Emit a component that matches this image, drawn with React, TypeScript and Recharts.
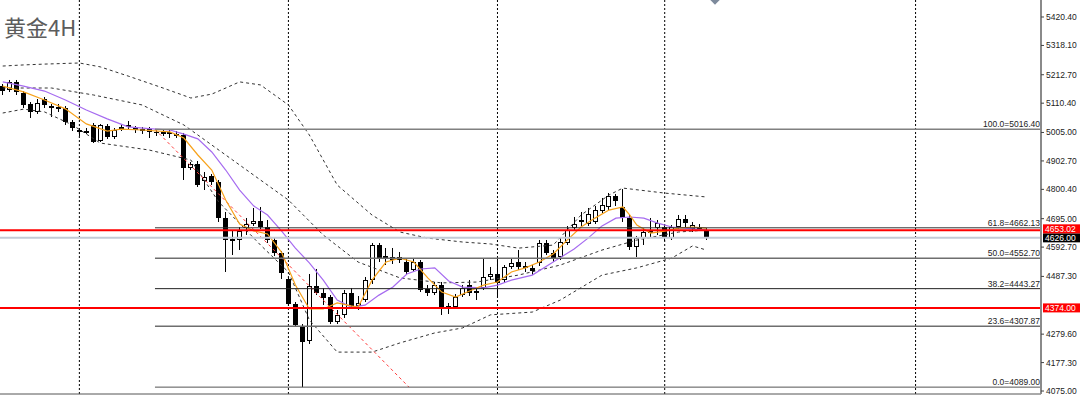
import type { FC } from 'react';
import { ComposedChart, Bar, Line, XAxis, YAxis, ReferenceLine } from 'recharts';

// 4H candles, oldest first
const OPEN = [5172.2, 5157.8, 5186.6, 5147.0, 5107.4, 5078.7, 5125.4, 5100.3, 5089.5, 5093.1,
    5042.7, 5006.8, 5008.5, 5031.9, 4974.4, 5028.3, 4988.8, 5017.5, 5031.9, 5021.1,
    5017.5, 5017.5, 5006.8, 5006.8, 5006.8, 4999.6, 4996.0, 4877.3, 4891.6, 4830.5,
    4848.5, 4826.9, 4697.4, 4618.3, 4618.3, 4661.4, 4675.8, 4686.6, 4665.0, 4618.3,
    4571.5, 4478.0, 4388.0, 4308.9, 4254.9, 4452.8, 4427.6, 4413.2, 4323.1, 4348.5,
    4427.6, 4380.8, 4402.4, 4474.4, 4600.3, 4560.7, 4557.1, 4546.3, 4539.1, 4510.4,
    4539.1, 4442.0, 4427.6, 4456.4, 4380.8, 4377.2, 4420.4, 4456.4, 4434.8, 4445.6,
    4485.2, 4496.0, 4474.4, 4521.2, 4539.1, 4524.8, 4517.6, 4535.5, 4607.5, 4571.5,
    4557.1, 4607.5, 4661.4, 4690.2, 4675.8, 4683.0, 4722.6, 4737.0, 4776.6, 4737.0,
    4697.4, 4593.1, 4625.5, 4654.2, 4661.4, 4665.0, 4625.5, 4665.0, 4693.8, 4657.8,
    4665.0, 4654.2];
const HIGH = [5179.4, 5193.8, 5193.8, 5154.2, 5114.6, 5125.4, 5132.6, 5107.4, 5107.4, 5100.3,
    5049.9, 5021.1, 5021.1, 5039.1, 5035.5, 5035.5, 5021.1, 5031.9, 5046.3, 5028.3,
    5024.7, 5024.7, 5016.4, 5013.9, 5013.9, 5010.3, 5003.2, 4898.8, 4902.4, 4862.9,
    4855.7, 4834.1, 4719.0, 4650.6, 4665.0, 4697.4, 4733.4, 4737.0, 4690.2, 4625.5,
    4578.7, 4485.2, 4395.2, 4316.0, 4496.0, 4514.0, 4445.6, 4420.4, 4366.4, 4438.4,
    4445.6, 4416.8, 4485.2, 4607.5, 4607.5, 4589.5, 4589.5, 4575.1, 4549.9, 4553.5,
    4546.3, 4456.4, 4467.2, 4467.2, 4391.6, 4424.0, 4456.4, 4474.4, 4445.6, 4553.5,
    4521.2, 4557.1, 4528.3, 4553.5, 4582.3, 4539.1, 4528.3, 4618.3, 4618.3, 4582.3,
    4625.5, 4668.6, 4701.0, 4719.0, 4733.4, 4740.6, 4769.4, 4787.4, 4783.8, 4801.7,
    4708.2, 4632.7, 4661.4, 4697.4, 4690.2, 4675.8, 4672.2, 4708.2, 4708.2, 4683.0,
    4675.8, 4661.4];
const LOW = [5139.8, 5150.6, 5139.8, 5093.1, 5057.1, 5071.5, 5093.1, 5060.7, 5078.7, 5031.9,
    5010.3, 4992.4, 4999.6, 4967.2, 4970.8, 4981.6, 4981.6, 5010.3, 5013.9, 5003.2,
    4999.6, 4985.2, 4992.4, 4992.4, 4985.2, 4985.2, 4834.1, 4870.1, 4808.9, 4798.1,
    4816.1, 4683.0, 4503.2, 4564.3, 4582.3, 4636.3, 4668.6, 4657.8, 4607.5, 4560.7,
    4478.0, 4380.8, 4305.3, 4089.0, 4244.2, 4420.4, 4384.4, 4316.0, 4316.0, 4337.7,
    4373.6, 4366.4, 4395.2, 4460.0, 4539.1, 4528.3, 4531.9, 4535.5, 4492.4, 4503.2,
    4431.2, 4416.8, 4420.4, 4348.5, 4352.1, 4370.0, 4413.2, 4416.8, 4402.4, 4438.4,
    4474.4, 4413.2, 4463.6, 4514.0, 4510.4, 4503.2, 4492.4, 4524.8, 4564.3, 4539.1,
    4546.3, 4600.3, 4650.6, 4668.6, 4668.6, 4675.8, 4715.4, 4726.2, 4740.6, 4683.0,
    4582.3, 4557.1, 4600.3, 4625.5, 4636.3, 4614.7, 4618.3, 4657.8, 4661.4, 4647.0,
    4650.6, 4618.3];
const CLOSE = [5154.2, 5186.6, 5150.6, 5103.9, 5078.7, 5111.0, 5103.9, 5093.1, 5096.7, 5042.7,
    5021.1, 5013.9, 5010.3, 4970.8, 5031.9, 4988.8, 5013.9, 5024.7, 5024.7, 5013.9,
    5010.3, 5006.8, 5003.2, 4999.6, 4999.6, 4992.4, 4877.3, 4891.6, 4816.1, 4844.9,
    4826.9, 4697.4, 4618.3, 4621.9, 4650.6, 4675.8, 4686.6, 4665.0, 4618.3, 4571.5,
    4499.6, 4388.0, 4312.4, 4251.4, 4452.8, 4427.6, 4409.6, 4323.1, 4348.5, 4427.6,
    4380.8, 4391.6, 4474.4, 4600.3, 4553.5, 4549.9, 4546.3, 4557.1, 4503.2, 4539.1,
    4438.4, 4427.6, 4456.4, 4377.2, 4373.6, 4413.2, 4445.6, 4427.6, 4427.6, 4485.2,
    4496.0, 4463.6, 4521.2, 4535.5, 4521.2, 4517.6, 4506.8, 4607.5, 4571.5, 4549.9,
    4611.1, 4654.2, 4675.8, 4683.0, 4711.8, 4726.2, 4744.2, 4776.6, 4758.6, 4697.4,
    4593.1, 4625.5, 4647.0, 4643.4, 4679.4, 4625.5, 4665.0, 4693.8, 4679.4, 4672.2,
    4657.8, 4626.0];

// indicator readings (candle index -> price)
const FAST_IDX = [0, 3, 6, 9, 12, 15, 17, 20, 24, 26, 28, 30, 32, 34, 36, 38, 40, 42, 44, 46, 48, 50, 51, 53, 55,
    57, 59, 61, 63, 65, 67, 69, 71, 73, 75, 77, 79, 81, 83, 85, 87, 89, 90, 91, 93, 95, 97, 99, 101];
const FAST_MA = [5172, 5151, 5122, 5090, 5036, 5010, 5017, 5014, 5007, 4985, 4924, 4870, 4762, 4676, 4651, 4640,
    4575, 4456, 4370, 4370, 4392, 4381, 4377, 4474, 4539, 4553, 4539, 4482, 4431, 4413, 4435, 4456, 4467, 4503,
    4518, 4539, 4568, 4618, 4665, 4697, 4726, 4737, 4708, 4672, 4643, 4650, 4661, 4665, 4661];
const SLOW_IDX = [0, 3, 6, 9, 12, 15, 18, 21, 24, 26, 28, 30, 32, 34, 36, 38, 40, 42, 44, 46, 48, 50, 52, 54, 56,
    58, 60, 62, 64, 66, 69, 71, 73, 76, 79, 82, 84, 86, 88, 90, 92, 94, 96, 99, 101];
const SLOW_MA = [5187, 5172, 5154, 5122, 5086, 5054, 5025, 5019, 5014, 4999, 4982, 4935, 4870, 4798, 4741, 4708,
    4651, 4589, 4536, 4474, 4402, 4377, 4384, 4420, 4449, 4496, 4514, 4518, 4471, 4449, 4446, 4456, 4474, 4492,
    4539, 4586, 4625, 4669, 4697, 4701, 4697, 4679, 4665, 4658, 4654];
const UPPER_IDX = [0, 3, 6, 11, 14, 18, 23, 27, 30, 34, 37, 41, 44, 48, 53, 57, 61, 66, 70, 74, 79, 83, 87, 89, 95, 101];
const UPPER_BAND = [5244, 5248, 5251, 5255, 5241, 5208, 5165, 5129, 5143, 5187, 5176, 5104, 4996, 4816, 4708, 4647,
    4625, 4611, 4604, 4589, 4600, 4708, 4780, 4805, 4787, 4773];
const MID_IDX = [0, 7, 13, 20, 26, 33, 41, 46, 51, 57, 63, 68, 74, 80, 86, 91, 97, 101];
const MID_BAND = [5165, 5165, 5140, 5104, 5032, 4906, 4762, 4636, 4539, 4482, 4464, 4467, 4492, 4528, 4582, 4618, 4647, 4654];
const LOWER_IDX = [0, 3, 6, 10, 14, 21, 27, 31, 37, 41, 44, 48, 53, 57, 62, 66, 70, 76, 80, 86, 91, 96, 99, 101];
const LOWER_BAND = [5075, 5089, 5079, 5032, 4967, 4942, 4906, 4755, 4600, 4503, 4331, 4215, 4215, 4248, 4284, 4302,
    4349, 4359, 4402, 4492, 4518, 4553, 4597, 4582];

const Y_TICKS = [5420.4, 5318.1, 5212.7, 5110.4, 5005.0, 4902.7, 4800.4, 4695.0, 4592.7, 4487.3, 4279.6, 4177.3, 4075.0];
const FIB_LEVELS = ['100.0', '61.8', '50.0', '38.2', '23.6', '0.0'];
const FIB_PRICES = [5016.4, 4662.13, 4552.7, 4443.27, 4307.87, 4089.0];
const FIB_COLORS = ['#808080', '#333', '#6e6e6e', '#222', '#6e6e6e', '#555'];
const FIB_START = 21.85;
const FIB_END_IDX = 58.3;
const DAY_SEPARATORS = [11, 41, 71, 95, 131];
const RED_LEVELS = [4653.02, 4374.0];
const BID = 4626.0;

const X_DOMAIN: [number, number] = [-0.39, 149];
const Y_DOMAIN: [number, number] = [4064.3, 5481.55];
const FONT = '"Liberation Sans", Arial, sans-serif';

const candles = OPEN.map((o, i) => ({ i, o, h: HIGH[i], l: LOW[i], c: CLOSE[i], range: [LOW[i], HIGH[i]] }));
const series = (idx: number[], vals: number[]) => idx.map((i, j) => ({ i, v: vals[j] }));
const fastPts = series(FAST_IDX, FAST_MA);
const slowPts = series(SLOW_IDX, SLOW_MA);
const upperPts = series(UPPER_IDX, UPPER_BAND);
const midPts = series(MID_IDX, MID_BAND);
const lowerPts = series(LOWER_IDX, LOWER_BAND);

const Candle = (props: any) => {
    const { x, y, width, height, payload } = props;
    if (!payload) return null;
    const { o, h, l, c } = payload;
    const k = height / (h - l || 1);
    const cx = Math.round(x + width / 2 - 0.5);
    const top = Math.round(y + (h - Math.max(o, c)) * k);
    const bot = Math.round(y + (h - Math.min(o, c)) * k);
    const bh = Math.max(1, bot - top);
    return (
        <g>
            <line x1={cx + 0.5} x2={cx + 0.5} y1={y} y2={y + height} stroke="#000" strokeWidth={1} />
            {c > o
                ? <rect x={cx - 1.5} y={top + 0.5} width={4} height={Math.max(1, bh - 1)} fill="#fff" stroke="#000" strokeWidth={1} />
                : <rect x={cx - 2} y={top} width={5} height={bh} fill="#000" />}
        </g>
    );
};

const priceTag = (text: string, bg: string, shift: number) => (props: any) => {
    const { x, y, width } = props.viewBox;
    const left = x + width + 2;
    const top = y - 4.5 + shift;
    return (
        <g>
            <rect x={left} y={top} width={37} height={9} fill={bg} />
            <text x={left + 2} y={top + 7.5} fontSize={8.5} fill="#fff" fontFamily={FONT}>{text}</text>
        </g>
    );
};

const fibLabel = (text: string) => (props: any) => {
    const { x, y, width } = props.viewBox;
    return (
        <text x={x + width - 1} y={y - 2} fontSize={8.5} fill="#222" textAnchor="end" fontFamily={FONT}>{text}</text>
    );
};

const bandProps = {
    dataKey: 'v', stroke: '#333', strokeWidth: 1, strokeDasharray: '3 3',
    dot: false, activeDot: false, isAnimationActive: false,
};

const App: FC = () => (
    <div style={{ position: 'absolute', left: 0, top: 0, width: 1080, height: 395, background: '#fff', overflow: 'hidden' }}>
        <ComposedChart width={1080} height={395} data={candles} margin={{ top: 0, right: 0, bottom: 0, left: 0 }}>
            <XAxis type="number" dataKey="i" domain={X_DOMAIN} allowDataOverflow height={1}
                tick={false} tickLine={false} axisLine={{ stroke: '#555' }} />
            <YAxis orientation="right" width={39} domain={Y_DOMAIN} allowDataOverflow ticks={Y_TICKS}
                interval={0} tickFormatter={(v: number) => v.toFixed(2)} tickSize={3} tickMargin={2}
                axisLine={{ stroke: '#8a8a8a', strokeWidth: 2 }} tickLine={{ stroke: '#444' }}
                tick={{ fontSize: 8.5, fill: '#222', fontFamily: FONT }} />

            {DAY_SEPARATORS.map((d) => (
                <ReferenceLine key={`d${d}`} x={d} stroke="#000" strokeDasharray="2 2" strokeWidth={1} />
            ))}

            <Line data={upperPts} {...bandProps} />
            <Line data={midPts} {...bandProps} />
            <Line data={lowerPts} {...bandProps} />

            <ReferenceLine segment={[{ x: FIB_START, y: FIB_PRICES[0] }, { x: FIB_END_IDX, y: FIB_PRICES[5] }]}
                stroke="#ff3b3b" strokeDasharray="3 3" strokeWidth={1} />

            <Bar dataKey="range" barSize={5} shape={Candle} isAnimationActive={false} activeBar={false} />

            <Line data={slowPts} dataKey="v" stroke="#a66bf0" strokeWidth={1.2} dot={false} activeDot={false} isAnimationActive={false} />
            <Line data={fastPts} dataKey="v" stroke="#f7a21b" strokeWidth={1.2} dot={false} activeDot={false} isAnimationActive={false} />

            {FIB_PRICES.map((p, k) => (
                <ReferenceLine key={`f${k}`} segment={[{ x: FIB_START, y: p }, { x: X_DOMAIN[1], y: p }]}
                    stroke={FIB_COLORS[k]} strokeWidth={k % 2 === 0 ? 1.6 : 1}
                    label={fibLabel(`${FIB_LEVELS[k]}=${p.toFixed(2)}`)} />
            ))}

            <ReferenceLine y={BID} stroke="#c3cad6" strokeWidth={2} label={priceTag(BID.toFixed(2), '#000', 0)} />
            {RED_LEVELS.map((p, k) => (
                <ReferenceLine key={`r${p}`} y={p} stroke="#ff0000" strokeWidth={2}
                    label={priceTag(p.toFixed(2), '#ff0000', k === 0 ? -1.5 : 0)} />
            ))}
        </ComposedChart>

        <div style={{ position: 'absolute', left: 4, top: 13, fontSize: 22, color: '#5c5c5c',
            fontFamily: '"Noto Sans CJK SC", "Noto Sans", sans-serif', lineHeight: '26px' }}>
            黄金4H
        </div>
        <div style={{ position: 'absolute', left: 711, top: -5, width: 8, height: 8, background: '#7d8a9c',
            transform: 'rotate(45deg)' }} />
    </div>
);

export default App;
